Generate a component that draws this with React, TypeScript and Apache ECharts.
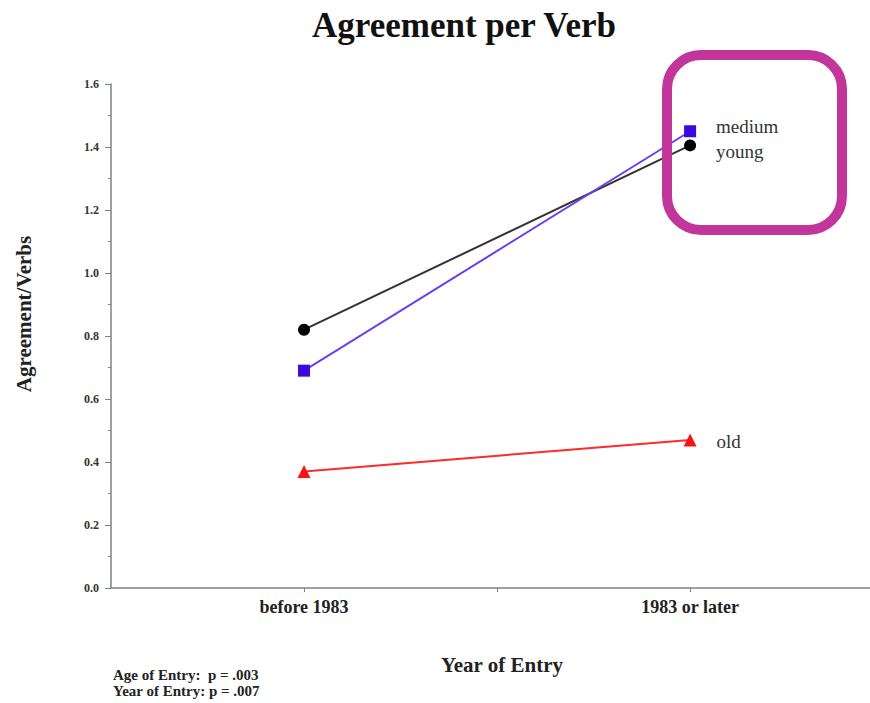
import React, { useEffect, useRef } from "react";
import * as echarts from "echarts";

const categories = ["before 1983", "1983 or later"];
const yTicks = [0, 0.2, 0.4, 0.6, 0.8, 1.0, 1.2, 1.4, 1.6];
const youngValues = [0.82, 1.405];
const mediumValues = [0.69, 1.45];
const oldValues = [0.37, 0.47];
const seriesNames = ["young", "medium", "old"];
const notes = ["Age of Entry:  p = .003", "Year of Entry: p = .007"];
const xTitle = "Year of Entry";
const yTitle = "Agreement/Verbs";
const chartTitle = "Agreement per Verb";

const SERIF = "'Liberation Serif', 'Times New Roman', serif";

function makeData(values: number[], labelOffset: number[]) {
  return values.map((v, i) => {
    const last = i === values.length - 1;
    return {
      value: [i, v],
      label: last
        ? {
            show: true,
            position: "right",
            distance: 20,
            offset: labelOffset,
            fontFamily: SERIF,
            fontSize: 19,
            color: "#333",
            formatter: "{a}",
          }
        : { show: false },
    };
  });
}

export default function App() {
  const ref = useRef<HTMLDivElement>(null);
  useEffect(() => {
    if (!ref.current) return;
    const chart = echarts.init(ref.current, undefined, { renderer: "svg" });
    chart.setOption({
      animation: false,
      backgroundColor: "#fff",
      title: {
        text: chartTitle,
        left: 307,
        top: 3,
        textStyle: { fontFamily: SERIF, fontSize: 35, fontWeight: "bold", color: "#111" },
      },
      grid: { left: 111, top: 84, height: 504, right: 0 },
      xAxis: {
        type: "value",
        min: -0.5,
        max: 1.466,
        interval: 0.5,
        splitLine: { show: false },
        axisLine: { onZero: false, lineStyle: { color: "#808080", width: 1.5 } },
        axisTick: { length: 4, lineStyle: { color: "#808080" } },
        axisLabel: {
          margin: 10,
          fontFamily: SERIF,
          fontSize: 18,
          fontWeight: "bold",
          color: "#222",
          showMinLabel: false,
          showMaxLabel: false,
          formatter: (v: number) =>
            Number.isInteger(v) && v >= 0 && v < categories.length ? categories[v] : "",
        },
      },
      yAxis: {
        type: "value",
        min: yTicks[0],
        max: yTicks[yTicks.length - 1],
        interval: 0.2,
        splitLine: { show: false },
        axisLine: { show: true, onZero: false, lineStyle: { color: "#808080", width: 1.5 } },
        axisTick: { show: true, length: 6, lineStyle: { color: "#808080" } },
        minorTick: { show: true, splitNumber: 2, length: 3, lineStyle: { color: "#808080" } },
        axisLabel: {
          margin: 12,
          fontFamily: SERIF,
          fontSize: 12,
          fontWeight: "bold",
          color: "#333",
          formatter: (v: number) => v.toFixed(1),
        },
      },
      series: [
        {
          name: seriesNames[0],
          type: "line",
          data: makeData(youngValues, [0, 6]),
          symbol: "circle",
          symbolSize: 12,
          itemStyle: { color: "#000" },
          lineStyle: { color: "#333", width: 2 },
          z: 2,
        },
        {
          name: seriesNames[1],
          type: "line",
          data: makeData(mediumValues, [0, -5]),
          symbol: "rect",
          symbolSize: 12,
          itemStyle: { color: "#3a0ae0" },
          lineStyle: { color: "#6a3ff0", width: 2 },
          z: 3,
        },
        {
          name: seriesNames[2],
          type: "line",
          data: makeData(oldValues, [0, 2]),
          symbol: "triangle",
          symbolSize: 13,
          itemStyle: { color: "#ff1010" },
          lineStyle: { color: "#ff2a2a", width: 2 },
          z: 2,
        },
      ],
      graphic: [
        {
          type: "text",
          x: 502,
          y: 665,
          style: {
            text: xTitle,
            fontFamily: SERIF,
            fontSize: 21,
            fontWeight: "bold",
            fill: "#222",
            textAlign: "center",
            textVerticalAlign: "middle",
          },
        },
        {
          type: "text",
          x: 24,
          y: 314,
          rotation: Math.PI / 2,
          style: {
            text: yTitle,
            fontFamily: SERIF,
            fontSize: 21,
            fontWeight: "bold",
            fill: "#222",
            textAlign: "center",
            textVerticalAlign: "middle",
          },
        },
        {
          type: "text",
          left: 113,
          top: 667,
          style: {
            text: notes.join("\n"),
            fontFamily: SERIF,
            fontSize: 15,
            fontWeight: "bold",
            lineHeight: 16,
            fill: "#222",
          },
        },
        {
          type: "rect",
          shape: { x: 667, y: 55, width: 175, height: 175, r: 34 },
          style: { fill: "none", stroke: "#c2359a", lineWidth: 10 },
          z: 100,
        },
      ],
    });
    return () => chart.dispose();
  }, []);
  return (
    <div
      ref={ref}
      style={{ position: "absolute", left: 0, top: 0, width: 870, height: 703 }}
    />
  );
}
